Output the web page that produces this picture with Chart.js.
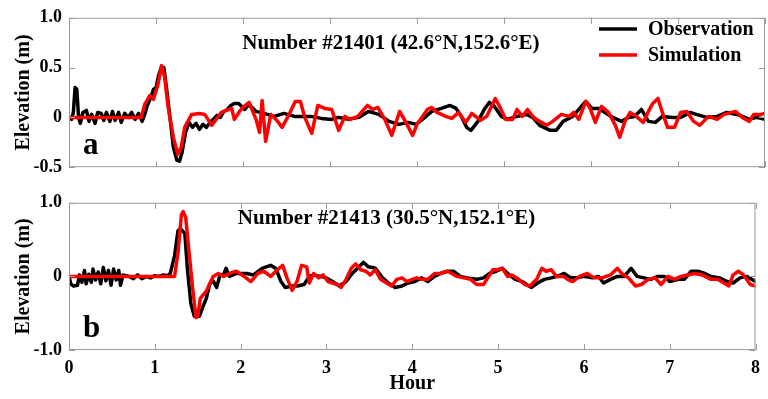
<!DOCTYPE html>
<html>
<head>
<meta charset="utf-8">
<script src="https://cdn.jsdelivr.net/npm/chart.js@4.4.1/dist/chart.umd.min.js"></script>
<style>
  html, body { margin: 0; padding: 0; background: #fff; }
  #wrap { position: relative; width: 768px; height: 399px; }
  canvas { position: absolute; left: 0; }
  #chartA { top: 0; }
  #chartB { top: 185px; }
</style>
</head>
<body>
<div id="wrap">
  <canvas id="chartA" width="768" height="185"></canvas>
  <canvas id="chartB" width="768" height="214"></canvas>
</div>
<script>
// panel a : station #21401
const obsATime = [0, 0.03, 0.05, 0.07, 0.09, 0.11, 0.13, 0.16, 0.2, 0.23, 0.26, 0.3, 0.33, 0.37, 0.4, 0.43, 0.47, 0.5, 0.53, 0.57, 0.6, 0.64, 0.68, 0.72, 0.76, 0.8, 0.84, 0.87, 0.9, 0.94, 0.97, 1.0, 1.03, 1.06, 1.09, 1.12, 1.16, 1.2, 1.24, 1.27, 1.3, 1.34, 1.38, 1.42, 1.46, 1.5, 1.54, 1.58, 1.62, 1.66, 1.7, 1.74, 1.78, 1.82, 1.86, 1.9, 1.95, 2.02, 2.07, 2.15, 2.24, 2.36, 2.47, 2.59, 2.66, 2.78, 2.9, 3.02, 3.1, 3.21, 3.33, 3.44, 3.56, 3.68, 3.79, 3.9, 3.99, 4.09, 4.17, 4.28, 4.38, 4.45, 4.51, 4.57, 4.62, 4.7, 4.78, 4.83, 4.89, 4.97, 5.04, 5.15, 5.26, 5.33, 5.41, 5.53, 5.6, 5.68, 5.79, 5.86, 5.94, 6.01, 6.09, 6.16, 6.25, 6.35, 6.43, 6.5, 6.58, 6.66, 6.74, 6.82, 6.94, 7.03, 7.14, 7.21, 7.33, 7.45, 7.56, 7.68, 7.74, 7.82, 7.9, 8.0];
const obsAElev = [0, -0.02, 0.05, 0.3, 0.28, 0.0, -0.06, 0.05, 0.07, -0.04, 0.03, -0.06, 0.05, 0.04, -0.03, 0.05, -0.04, 0.06, -0.03, 0.05, -0.05, 0.04, 0.0, 0.05, -0.02, 0.04, -0.04, 0.03, 0.12, 0.2, 0.28, 0.3, 0.42, 0.5, 0.5, 0.3, 0.0, -0.3, -0.43, -0.44, -0.35, -0.15, -0.05, -0.1, -0.06, -0.12, -0.07, -0.1, -0.05, -0.02, 0.02, 0.0, 0.06, 0.08, 0.12, 0.14, 0.14, 0.08, 0.13, 0.06, 0.04, 0.01, 0.04, 0.01, 0.01, 0.01, -0.01, -0.02, 0.0, -0.02, 0.0, 0.06, 0.03, -0.04, -0.07, -0.05, -0.07, 0.0, 0.06, 0.09, 0.12, 0.09, 0.01, -0.1, -0.13, -0.04, 0.09, 0.15, 0.11, 0.01, -0.02, 0.01, 0.03, 0.0, -0.08, -0.13, -0.13, -0.04, 0.01, 0.08, 0.16, 0.09, 0.09, 0.05, 0.0, -0.04, 0.0, 0.01, 0.08, -0.04, -0.05, 0.01, 0.0, 0.0, 0.05, 0.03, 0.0, 0.01, 0.05, 0.03, 0.01, -0.02, 0.0, -0.02];
const simATime = [0, 0.5, 0.83, 0.87, 0.93, 0.97, 1.02, 1.065, 1.1, 1.14, 1.2, 1.25, 1.29, 1.33, 1.41, 1.5, 1.56, 1.64, 1.75, 1.87, 1.9, 1.96, 2.0, 2.07, 2.15, 2.19, 2.22, 2.26, 2.32, 2.38, 2.45, 2.53, 2.6, 2.66, 2.71, 2.79, 2.86, 2.94, 3.02, 3.1, 3.17, 3.23, 3.32, 3.43, 3.49, 3.55, 3.63, 3.71, 3.8, 3.86, 3.95, 4.0, 4.12, 4.17, 4.23, 4.33, 4.4, 4.48, 4.56, 4.63, 4.73, 4.8, 4.9, 4.96, 5.02, 5.1, 5.15, 5.21, 5.27, 5.33, 5.37, 5.49, 5.56, 5.66, 5.75, 5.8, 5.86, 5.94, 5.99, 6.05, 6.12, 6.2, 6.28, 6.33, 6.39, 6.45, 6.52, 6.6, 6.66, 6.71, 6.77, 6.82, 6.88, 6.96, 7.03, 7.1, 7.18, 7.25, 7.35, 7.45, 7.53, 7.66, 7.74, 7.82, 7.87, 7.95, 8.0];
const simAElev = [0, 0, 0, 0.13, 0.22, 0.18, 0.32, 0.52, 0.4, 0.1, -0.2, -0.37, -0.3, -0.1, 0.03, 0.04, 0.03, -0.08, 0.05, 0.09, -0.02, 0.06, 0.1, 0.15, -0.02, -0.15, 0.17, -0.24, 0.03, -0.02, -0.1, 0.03, 0.16, 0.16, 0.0, -0.16, 0.12, 0.09, 0.08, -0.13, 0.01, -0.02, 0.01, 0.12, 0.08, 0.1, -0.02, -0.18, 0.06, -0.03, -0.18, -0.07, 0.08, 0.1, 0.05, 0.01, -0.01, 0.05, -0.05, 0.04, -0.03, 0.01, 0.19, 0.09, -0.02, -0.02, 0.08, 0.01, 0.08, 0.01, -0.02, -0.08, -0.04, 0.03, 0.01, 0.05, -0.02, 0.16, 0.09, -0.05, 0.11, 0.05, -0.08, -0.2, -0.04, 0.05, 0.01, -0.05, 0.06, 0.14, 0.19, 0.05, -0.1, -0.1, 0.05, 0.06, -0.04, -0.08, 0.01, -0.02, 0.03, 0.06, 0.0, -0.04, 0.03, 0.03, 0.04];

// panel b : station #21413
const obsBTime = [0, 0.02, 0.05, 0.1, 0.12, 0.15, 0.18, 0.2, 0.23, 0.26, 0.28, 0.31, 0.34, 0.37, 0.4, 0.43, 0.46, 0.49, 0.52, 0.55, 0.58, 0.6, 0.63, 0.7, 0.75, 0.8, 0.85, 0.9, 0.95, 1.0, 1.05, 1.1, 1.15, 1.18, 1.23, 1.27, 1.3, 1.35, 1.38, 1.42, 1.46, 1.52, 1.56, 1.6, 1.64, 1.68, 1.72, 1.76, 1.8, 1.83, 1.87, 1.95, 2.07, 2.15, 2.25, 2.35, 2.41, 2.47, 2.52, 2.6, 2.66, 2.74, 2.8, 2.85, 2.93, 3.0, 3.07, 3.15, 3.23, 3.3, 3.38, 3.43, 3.49, 3.57, 3.64, 3.72, 3.8, 3.88, 3.95, 4.03, 4.11, 4.18, 4.26, 4.33, 4.41, 4.48, 4.56, 4.64, 4.75, 4.83, 4.9, 4.98, 5.05, 5.13, 5.2, 5.28, 5.36, 5.39, 5.46, 5.54, 5.62, 5.69, 5.77, 5.85, 5.92, 6.0, 6.1, 6.17, 6.23, 6.31, 6.39, 6.47, 6.55, 6.62, 6.7, 6.78, 6.86, 6.94, 7.0, 7.1, 7.17, 7.25, 7.33, 7.41, 7.48, 7.58, 7.67, 7.74, 7.82, 7.9, 8.0];
const obsBElev = [0, -0.1, -0.13, -0.12, 0.02, -0.08, 0.08, -0.1, 0.03, -0.08, 0.1, -0.05, 0.06, -0.1, 0.12, -0.06, 0.08, -0.12, 0.1, -0.05, 0.08, -0.12, 0.02, 0.0, -0.03, 0.02, -0.03, 0.0, -0.02, 0.01, 0.0, 0.02, 0.01, 0.04, 0.28, 0.62, 0.65, 0.58, 0.1, -0.37, -0.54, -0.54, -0.41, -0.3, -0.1, -0.06, -0.15, 0.02, 0.02, 0.11, 0.0, 0.04, 0.04, 0.02, 0.11, 0.15, 0.11, -0.07, -0.15, -0.13, -0.13, -0.11, 0.0, 0.02, 0.0, -0.02, -0.07, -0.13, -0.07, 0.04, 0.13, 0.19, 0.13, 0.11, 0.0, -0.09, -0.15, -0.13, -0.09, -0.07, -0.02, -0.07, 0.0, 0.04, 0.07, 0.07, 0.0, -0.02, -0.04, -0.02, 0.04, 0.07, 0.11, 0.02, -0.04, -0.07, -0.13, -0.15, -0.09, -0.04, -0.02, 0.0, 0.04, -0.02, -0.02, 0.0, -0.02, 0.0, -0.09, -0.04, 0.0, 0.0, 0.11, 0.0, -0.02, -0.04, 0.0, 0.0, -0.07, -0.04, -0.04, 0.07, 0.07, 0.04, 0.0, -0.02, -0.07, -0.09, -0.02, 0.0, -0.07];
const simBTime = [0, 1.14, 1.23, 1.27, 1.31, 1.33, 1.36, 1.4, 1.44, 1.48, 1.5, 1.53, 1.6, 1.68, 1.74, 1.8, 1.87, 1.95, 2.04, 2.12, 2.2, 2.27, 2.35, 2.41, 2.49, 2.54, 2.6, 2.66, 2.71, 2.77, 2.8, 2.85, 2.91, 2.96, 3.02, 3.07, 3.13, 3.17, 3.23, 3.29, 3.34, 3.4, 3.46, 3.51, 3.57, 3.63, 3.7, 3.76, 3.82, 3.88, 3.94, 4.0, 4.05, 4.11, 4.18, 4.26, 4.33, 4.41, 4.46, 4.52, 4.6, 4.68, 4.75, 4.83, 4.88, 4.94, 4.99, 5.05, 5.11, 5.16, 5.24, 5.31, 5.37, 5.45, 5.51, 5.56, 5.62, 5.68, 5.76, 5.81, 5.87, 5.95, 6.04, 6.12, 6.21, 6.31, 6.39, 6.44, 6.52, 6.6, 6.67, 6.75, 6.83, 6.9, 6.98, 7.06, 7.13, 7.21, 7.29, 7.38, 7.48, 7.56, 7.63, 7.69, 7.74, 7.8, 7.86, 7.94, 8.0];
const simBElev = [0, 0, 0, 0.32, 0.84, 0.88, 0.8, 0.32, -0.15, -0.56, -0.54, -0.3, -0.2, 0.0, 0.04, 0.0, 0.04, 0.07, 0.0, -0.07, 0.04, 0.07, 0.0, 0.07, 0.15, -0.02, -0.19, -0.06, 0.15, 0.13, -0.09, 0.04, -0.02, 0.02, -0.07, -0.09, -0.11, -0.15, -0.04, 0.11, 0.17, 0.09, 0.07, 0.02, 0.09, -0.04, -0.09, -0.13, -0.04, -0.02, -0.07, -0.04, -0.02, -0.04, -0.04, 0.04, 0.04, 0.07, 0.04, 0.0, -0.02, -0.04, -0.11, -0.11, -0.02, 0.09, 0.09, 0.11, 0.0, 0.02, -0.04, -0.11, -0.13, -0.04, 0.11, 0.07, 0.09, 0.0, 0.0, -0.04, -0.07, 0.0, 0.04, -0.02, -0.02, 0.02, 0.11, 0.04, -0.02, -0.13, -0.11, -0.04, -0.02, -0.11, 0.0, -0.04, 0.0, 0.02, 0.04, 0.02, -0.04, -0.04, -0.09, -0.13, 0.02, 0.07, 0.02, -0.11, -0.13];

const seriesNames = ['Observation', 'Simulation'];
const panelTitles = ['Number #21401 (42.6°N,152.6°E)', 'Number #21413 (30.5°N,152.1°E)'];
const panelLetters = ['a', 'b'];
const yTicksA = [-0.5, 0, 0.5, 1.0];
const yTickLabelsA = ['-0.5', '0', '0.5', '1.0'];
const yTicksB = [-1.0, 0, 1.0];
const yTickLabelsB = ['-1.0', '0', '1.0'];
const xTicks = [0, 1, 2, 3, 4, 5, 6, 7, 8];
const xTickLabels = ['0', '1', '2', '3', '4', '5', '6', '7', '8'];

const FONT = "'Liberation Serif', 'Times New Roman', serif";
const FRAME = '#9a9a9a';

function toPoints(t, v) {
  return t.map((x, i) => ({ x: x, y: v[i] }));
}

// box around the plot + inward ticks like matlab
const framePlugin = {
  id: 'frame',
  afterDatasetsDraw(chart, args, opts) {
    const { ctx, chartArea: a, scales } = chart;
    ctx.save();
    ctx.strokeStyle = FRAME;
    ctx.lineWidth = 1;
    ctx.strokeRect(a.left + 0.5, a.top + 0.5, a.right - a.left - 1, a.bottom - a.top - 1);
    const len = 6;
    ctx.beginPath();
    xTicks.forEach(v => {
      const px = Math.round(scales.x.getPixelForValue(v)) + 0.5;
      ctx.moveTo(px, a.top); ctx.lineTo(px, a.top + len);
      ctx.moveTo(px, a.bottom); ctx.lineTo(px, a.bottom - len);
    });
    opts.yTicks.forEach(v => {
      const py = Math.round(scales.y.getPixelForValue(v)) + 0.5;
      ctx.moveTo(a.left, py); ctx.lineTo(a.left + len, py);
      ctx.moveTo(a.right, py); ctx.lineTo(a.right - len, py);
    });
    ctx.stroke();

    // title and panel letter
    ctx.fillStyle = '#000';
    ctx.textBaseline = 'middle';
    ctx.textAlign = 'center';
    ctx.font = 'bold 21px ' + FONT;
    ctx.fillText(opts.title, scales.x.getPixelForValue(3.7), a.top + opts.titleDy);
    ctx.textAlign = 'left';
    ctx.textBaseline = 'alphabetic';
    ctx.font = 'bold 31px ' + FONT;
    ctx.fillText(opts.letter, a.left + 14, a.bottom - 13);

    // legend (top panel only)
    if (opts.legend) {
      const ds = chart.data.datasets;
      ds.forEach((d, i) => {
        const y = 29 + i * 26;
        ctx.strokeStyle = d.borderColor;
        ctx.lineWidth = 3.5;
        ctx.beginPath();
        ctx.moveTo(599, y); ctx.lineTo(637, y);
        ctx.stroke();
        ctx.fillStyle = '#000';
        ctx.textBaseline = 'middle';
        ctx.font = 'bold 20px ' + FONT;
        ctx.fillText(d.label, 648, y + 1);
      });
    }
    ctx.restore();
  }
};

function makeChart(id, obsT, obsV, simT, simV, yMin, yMax, yTicks, yLabels, idx) {
  const isBottom = idx === 1;
  return new Chart(document.getElementById(id), {
    type: 'line',
    data: {
      datasets: [
        { label: seriesNames[0], data: toPoints(obsT, obsV), borderColor: '#000000', borderWidth: 3.5, order: 1 },
        { label: seriesNames[1], data: toPoints(simT, simV), borderColor: '#ff0000', borderWidth: 3.5, order: 0 }
      ]
    },
    options: {
      responsive: false,
      animation: false,
      layout: { padding: isBottom ? { top: 10, right: 3, bottom: 0, left: 0 } : { top: 14, right: 3, bottom: 15, left: 0 } },
      elements: { point: { radius: 0 }, line: { tension: 0, borderJoinStyle: 'round', borderCapStyle: 'round' } },
      plugins: {
        legend: { display: false },
        tooltip: { enabled: false },
        frame: { yTicks: yTicks, title: panelTitles[idx], letter: panelLetters[idx], legend: !isBottom, titleDy: isBottom ? 16 : 26 }
      },
      scales: {
        x: {
          type: 'linear',
          min: 0, max: 8,
          grid: { display: false, drawTicks: false },
          border: { display: false },
          afterBuildTicks: s => { s.ticks = xTicks.map(v => ({ value: v })); },
          afterFit: s => { s.height = isBottom ? 49 : 0; },
          ticks: {
            display: isBottom,
            padding: 8,
            color: '#000',
            maxRotation: 0,
            font: { family: FONT, size: 18, weight: 'bold' },
            callback: v => xTickLabels[xTicks.indexOf(v)]
          },
          title: {
            display: isBottom,
            text: 'Hour',
            color: '#000',
            padding: { top: 0, bottom: 3 },
            font: { family: FONT, size: 20, weight: 'bold' }
          }
        },
        y: {
          min: yMin, max: yMax,
          grid: { display: false, drawTicks: false },
          border: { display: false },
          afterBuildTicks: s => { s.ticks = yTicks.map(v => ({ value: v })); },
          afterFit: s => { s.width = 69; },
          ticks: {
            padding: 7,
            color: '#000',
            font: { family: FONT, size: 18, weight: 'bold' },
            callback: v => yLabels[yTicks.indexOf(v)]
          },
          title: {
            display: true,
            text: 'Elevation (m)',
            color: '#000',
            padding: { top: 12, bottom: 0 },
            font: { family: FONT, size: 20, weight: 'bold' }
          }
        }
      }
    },
    plugins: [framePlugin]
  });
}

makeChart('chartA', obsATime, obsAElev, simATime, simAElev, -0.5, 1.0, yTicksA, yTickLabelsA, 0);
makeChart('chartB', obsBTime, obsBElev, simBTime, simBElev, -1.0, 1.0, yTicksB, yTickLabelsB, 1);
</script>
</body>
</html>
